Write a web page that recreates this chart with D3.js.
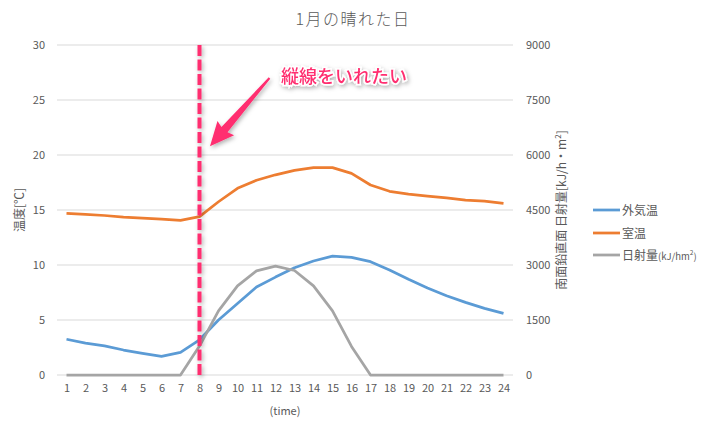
<!DOCTYPE html>
<html lang="ja">
<head>
<meta charset="UTF-8">
<script src="https://d3js.org/d3.v7.min.js"></script>
<style>
    body { margin: 0; background: #fff; }
    text { font-family: "Noto Sans CJK JP", "Noto Sans", sans-serif; fill: #595959; }
</style>
</head>
<body>
<svg id="chart" width="706" height="431"></svg>
<script>
    // データ
    const hours = d3.range(1, 25);
    const gaikion = [3.25, 2.9, 2.65, 2.27, 1.97, 1.7, 2.06, 3.2, 5.0, 6.5, 8.0, 8.9, 9.75, 10.36, 10.8, 10.7, 10.3, 9.55, 8.7, 7.9, 7.2, 6.6, 6.06, 5.6];
    const shitsuon = [14.7, 14.6, 14.5, 14.36, 14.27, 14.18, 14.06, 14.4, 15.75, 16.97, 17.7, 18.2, 18.6, 18.85, 18.85, 18.33, 17.27, 16.7, 16.45, 16.27, 16.1, 15.9, 15.8, 15.6];
    const nissha = [0, 0, 0, 0, 0, 0, 0, 790, 1750, 2430, 2840, 2970, 2850, 2430, 1750, 780, 0, 0, 0, 0, 0, 0, 0, 0];
    const leftTicks = [0, 5, 10, 15, 20, 25, 30];
    const rightTicks = [0, 1500, 3000, 4500, 6000, 7500, 9000];
    const markHour = 8;

    const width = 706, height = 431;
    const margin = { top: 45, right: 193, bottom: 56, left: 57 };

    const svg = d3.select("#chart");

    const x = d3.scalePoint()
        .domain(hours)
        .range([margin.left, width - margin.right])
        .padding(0.5);
    const yL = d3.scaleLinear().domain([0, 30]).range([height - margin.bottom, margin.top]);
    const yR = d3.scaleLinear().domain([0, 9000]).range([height - margin.bottom, margin.top]);

    // 影（縦線は幅0なので userSpaceOnUse にする）
    const defs = svg.append("defs");
    const shadow = defs.append("filter").attr("id", "shadow")
        .attr("filterUnits", "userSpaceOnUse")
        .attr("x", 0).attr("y", 0).attr("width", width).attr("height", height);
    shadow.append("feDropShadow").attr("dx", 1.5).attr("dy", 2).attr("stdDeviation", 2)
        .attr("flood-color", "#000").attr("flood-opacity", 0.3);

    // タイトル
    svg.append("text")
        .attr("x", 353).attr("y", 25)
        .attr("text-anchor", "middle")
        .style("font-size", "16px")
        .style("letter-spacing", "1.5px")
        .style("font-weight", "300")
        .text("1月の晴れた日");

    // グリッド線
    svg.append("g")
        .selectAll("line")
        .data(leftTicks)
        .join("line")
        .attr("x1", margin.left).attr("x2", width - margin.right)
        .attr("y1", d => yL(d)).attr("y2", d => yL(d))
        .attr("stroke", "#d9d9d9").attr("stroke-width", 1);

    // 左軸
    const axL = svg.append("g")
        .attr("transform", `translate(${margin.left - 8},0)`)
        .call(d3.axisLeft(yL).tickValues(leftTicks).tickSize(0).tickPadding(4));
    axL.select(".domain").remove();
    axL.selectAll("text").style("font-size", "11px");

    // 右軸
    const axR = svg.append("g")
        .attr("transform", `translate(${width - margin.right + 9},0)`)
        .call(d3.axisRight(yR).tickValues(rightTicks).tickFormat(d3.format("d")).tickSize(0).tickPadding(4));
    axR.select(".domain").remove();
    axR.selectAll("text").style("font-size", "11px");

    // 下軸
    const axB = svg.append("g")
        .attr("transform", `translate(0,${height - margin.bottom})`)
        .call(d3.axisBottom(x).tickSize(0).tickPadding(9));
    axB.select(".domain").remove();
    axB.selectAll("text").style("font-size", "11px");

    // 軸タイトル
    svg.append("text")
        .attr("x", (margin.left + width - margin.right) / 2)
        .attr("y", 415)
        .attr("text-anchor", "middle")
        .style("font-size", "11px")
        .text("(time)");

    svg.append("text")
        .attr("transform", `translate(24,${(margin.top + height - margin.bottom) / 2}) rotate(-90)`)
        .attr("text-anchor", "middle")
        .style("font-size", "12px")
        .text("温度[℃]");

    const rt = svg.append("text")
        .attr("transform", `translate(566,${(margin.top + height - margin.bottom) / 2}) rotate(-90)`)
        .attr("text-anchor", "middle")
        .style("font-size", "12px");
    rt.append("tspan").text("南面鉛直面 日射量[kJ/h・m");
    rt.append("tspan").attr("baseline-shift", "super").style("font-size", "8px").text("2");
    rt.append("tspan").text("]");

    // 折れ線
    const series = [
        { name: "外気温", values: gaikion, y: yL, color: "#5b9bd5" },
        { name: "室温", values: shitsuon, y: yL, color: "#ed7d31" },
        { name: "日射量", values: nissha, y: yR, color: "#a5a5a5" }
    ];

    series.forEach(s => {
        const line = d3.line()
            .x((d, i) => x(hours[i]))
            .y(d => s.y(d));
        svg.append("path")
            .datum(s.values)
            .attr("fill", "none")
            .attr("stroke", s.color)
            .attr("stroke-width", 2.75)
            .attr("stroke-linejoin", "round")
            .attr("d", line);
    });

    // 縦線（8時）
    svg.append("line")
        .attr("x1", x(markHour)).attr("x2", x(markHour))
        .attr("y1", yL(30)).attr("y2", yL(0))
        .attr("stroke", "#ff2d6f")
        .attr("stroke-width", 4)
        .attr("stroke-dasharray", "11,3.5")
        .attr("filter", "url(#shadow)");

    // 矢印
    const tip = [x(markHour) + 10.5, yL(20.8)];
    const tail = [x(markHour) + 70, yL(27)];
    const ang = Math.atan2(tip[1] - tail[1], tip[0] - tail[0]);
    const len = Math.hypot(tip[0] - tail[0], tip[1] - tail[1]);
    const pt = (along, side) => [
        tail[0] + along * Math.cos(ang) - side * Math.sin(ang),
        tail[1] + along * Math.sin(ang) + side * Math.cos(ang)
    ];
    const headLen = 22;
    const arrowPts = [
        pt(0, -1), pt(len - headLen, -4), pt(len - headLen - 2, -11),
        pt(len, 0),
        pt(len - headLen - 2, 11), pt(len - headLen, 4), pt(0, 1)
    ];
    svg.append("polygon")
        .attr("points", arrowPts.map(p => p.join(",")).join(" "))
        .attr("fill", "#ff2d6f")
        .attr("filter", "url(#shadow)");

    svg.append("text")
        .attr("x", 281).attr("y", 83)
        .style("font-size", "18px")
        .style("font-weight", "500")
        .style("fill", "#ff2d6f")
        .attr("stroke", "#fff")
        .attr("stroke-width", 3)
        .attr("paint-order", "stroke")
        .attr("filter", "url(#shadow)")
        .text("縦線をいれたい");

    // 凡例
    const legend = svg.append("g");
    const legendY = [210, 233, 255];
    series.forEach((s, i) => {
        legend.append("line")
            .attr("x1", 593).attr("x2", 620)
            .attr("y1", legendY[i]).attr("y2", legendY[i])
            .attr("stroke", s.color).attr("stroke-width", 2.75);
        const t = legend.append("text")
            .attr("x", 622).attr("y", legendY[i] + 4.5)
            .style("font-size", "12px");
        t.append("tspan").text(s.name);
        if (s.name === "日射量") {
            t.append("tspan").style("font-size", "9.5px").text("(kJ/hm");
            t.append("tspan").attr("baseline-shift", "super").style("font-size", "6.5px").text("2");
            t.append("tspan").style("font-size", "9.5px").text(")");
        }
    });
</script>
</body>
</html>
